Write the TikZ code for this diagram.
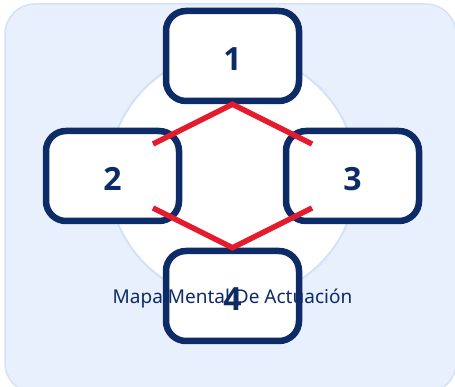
\documentclass[tikz,border=0pt]{standalone}
\usepackage{fontspec}
\setmainfont{Noto Sans}
\newfontfamily\boxfont{Open Sans}
\usetikzlibrary{positioning,calc}
\definecolor{navy}{HTML}{0D2B66}
\definecolor{linkred}{HTML}{E31B2D}
\definecolor{panel}{HTML}{E8F0FE}
\definecolor{panelline}{HTML}{D5E1F4}

\begin{document}
\begin{tikzpicture}[x=1pt,y=1pt,
    box/.style={shape=rectangle, draw=navy, fill=white, line width=6.5pt, rounded corners=20pt,
      minimum width=133pt, minimum height=90pt, text height=30pt, text depth=0pt,
      font=\boxfont\bfseries\fontsize{32}{38}\selectfont, text=navy},
    link/.style={draw=linkred, line width=5.5pt}]
    \useasboundingbox (0,0) rectangle (455,387);
    % panel and ring
    \draw[panelline, fill=panel, line width=1.5pt, rounded corners=30pt] (5,383) rectangle (456,-6);
    \node[circle, draw=panelline, fill=white, line width=2pt, minimum size=248pt] (ring) at (232.5,211) {};
    % the four boxes
    \node[box] (b1) at ([yshift=120]ring.center) {1};
    \node[box] (b2) at ([xshift=-120]ring.center) {2};
    \node[box] (b3) at ([xshift=120]ring.center) {3};
    \node[box] (b4) at ([yshift=-120]ring.center) {4};
    % red links
    \coordinate (p2a) at ([shift={(40.5,32)}]b2.center);
    \coordinate (p2b) at ([shift={(40.5,-32)}]b2.center);
    \coordinate (p3a) at ([shift={(-40.5,32)}]b3.center);
    \coordinate (p3b) at ([shift={(-40.5,-32)}]b3.center);
    \draw[link] (p2a) -- (b1.south) -- (p3a);
    \draw[link] (p2b) -- (b4.north) -- (p3b);
    % caption
    \node[font=\fontsize{19}{23}\selectfont, text=navy, anchor=base] (title) at ([yshift=-8]b4.center) {Mapa Mental De Actuación};
\end{tikzpicture}
\end{document}
